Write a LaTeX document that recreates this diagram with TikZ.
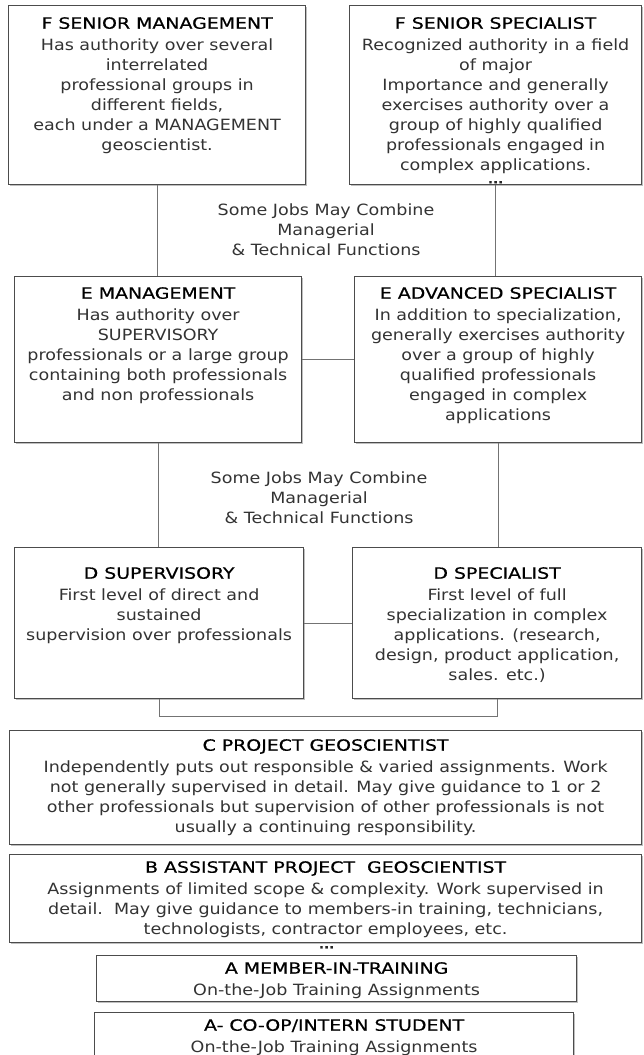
\documentclass[tikz,border=0pt]{standalone}
\usepackage{fontspec}
\setmainfont{DejaVu Sans}[FakeStretch=1.13]
\newfontfamily\headfont{DejaVu Sans}[FakeStretch=1.22,FakeBold=0.6]
\usepackage{tikz}
\usetikzlibrary{shadows}

\begin{document}
\begin{tikzpicture}[x=1pt, y=-1pt,
    every node/.style={inner sep=0pt},
    grade/.style={draw=black!70, line width=1.2pt, fill=white, anchor=north west,
        drop shadow={shadow xshift=1.5pt, shadow yshift=-1.5pt, fill=black, opacity=.25}},
    duty/.style={anchor=north, align=center, text=black!80,
        font=\fontsize{15.5}{20}\selectfont},
    link/.style={draw=black!55, line width=1.2pt},
    more/.style={font=\headfont\bfseries\fontsize{11}{11}\selectfont, text=black!85}]

    \useasboundingbox (0,0) rectangle (643,1055);

    % boxes, top left corner and size
    \node[grade, minimum width=297pt, minimum height=179pt] (fsm) at (8,5) {};
    \node[grade, minimum width=292pt, minimum height=179pt] (fss) at (349,5) {};
    \node[grade, minimum width=287pt, minimum height=166pt] (em) at (14,276) {};
    \node[grade, minimum width=287pt, minimum height=166pt] (eas) at (354,276) {};
    \node[grade, minimum width=289pt, minimum height=151pt] (ds) at (14,547) {};
    \node[grade, minimum width=289pt, minimum height=151pt] (dsp) at (352,547) {};
    \node[grade, minimum width=632pt, minimum height=114pt] (c) at (9,730) {};
    \node[grade, minimum width=632pt, minimum height=88pt] (b) at (9,854) {};
    \node[grade, minimum width=480pt, minimum height=46pt] (amit) at (96,955) {};
    \node[grade, minimum width=479pt, minimum height=50pt] (acoop) at (94,1012) {};

    % connectors
    \draw[link] (fsm.south) -- (fsm.south |- em.north);
    \draw[link] (fss.south) -- (fss.south |- eas.north);
    \draw[link] (em.east) -- (eas.west);
    \draw[link] (em.south) -- (em.south |- ds.north);
    \draw[link] (eas.south) -- (eas.south |- dsp.north);
    \draw[link] (ds.east) -- (dsp.west);
    \draw[link] (ds.south) -- ++(0,17) -| (dsp.south);

    % texts
    \node[duty] (fsm-t) at ([yshift=-12pt]fsm.north) {{\headfont\color{black}F SENIOR MANAGEMENT}\\[1.5pt]
        Has authority over several\\ interrelated\\ professional groups in\\ different fields,\\
        each under a MANAGEMENT\\ geoscientist.};
    \node[duty] (fss-t) at ([yshift=-12pt]fss.north) {{\headfont\color{black}F SENIOR SPECIALIST}\\[1.5pt]
        Recognized authority in a field\\ of major\\ Importance and generally\\
        exercises authority over a\\ group of highly qualified\\ professionals engaged in\\
        complex applications.};
    \node[more] (fss-more) at ([yshift=3pt]fss.south) {...};

    \node[duty] (mix1) at (326,204) {Some Jobs May Combine\\ Managerial\\ \& Technical Functions};

    \node[duty] (em-t) at ([yshift=-11pt]em.north) {{\headfont\color{black}E MANAGEMENT}\\[1.5pt]
        Has authority over\\ SUPERVISORY\\ professionals or a large group\\
        containing both professionals\\ and non professionals};
    \node[duty] (eas-t) at ([yshift=-11pt]eas.north) {{\headfont\color{black}E ADVANCED SPECIALIST}\\[1.5pt]
        In addition to specialization,\\ generally exercises authority\\ over a group of highly\\
        qualified professionals\\ engaged in complex\\ applications};

    \node[duty] (mix2) at (319,472) {Some Jobs May Combine\\ Managerial\\ \& Technical Functions};

    \node[duty] (ds-t) at ([yshift=-20pt]ds.north) {{\headfont\color{black}D SUPERVISORY}\\[1.5pt]
        First level of direct and\\ sustained\\ supervision over professionals};
    \node[duty] (dsp-t) at ([yshift=-20pt]dsp.north) {{\headfont\color{black}D SPECIALIST}\\[1.5pt]
        First level of full\\ specialization in complex\\ applications. (research,\\
        design, product application,\\ sales. etc.)};

    \node[duty] (c-t) at ([yshift=-9pt]c.north) {{\headfont\color{black}C PROJECT GEOSCIENTIST}\\[1.5pt]
        Independently puts out responsible \& varied assignments. Work\\
        not generally supervised in detail. May give guidance to 1 or 2\\
        other professionals but supervision of other professionals is not\\
        usually a continuing responsibility.};
    \node[duty] (b-t) at ([yshift=-7pt]b.north) {{\headfont\color{black}B ASSISTANT PROJECT\ \ GEOSCIENTIST}\\[1.5pt]
        Assignments of limited scope \& complexity. Work supervised in\\
        detail.\ \ May give guidance to members-in training, technicians,\\
        technologists, contractor employees, etc.};
    \node[more] (b-more) at ([xshift=1pt, yshift=-4pt]b.south) {...};

    \node[duty] (amit-t) at ([yshift=-7pt]amit.north) {{\headfont\color{black}A MEMBER-IN-TRAINING}\\[1.5pt]
        On-the-Job Training Assignments};
    \node[duty] (acoop-t) at ([yshift=-7pt]acoop.north) {{\headfont\color{black}A- CO-OP/INTERN STUDENT}\\[1.5pt]
        On-the-Job Training Assignments};

\end{tikzpicture}
\end{document}
